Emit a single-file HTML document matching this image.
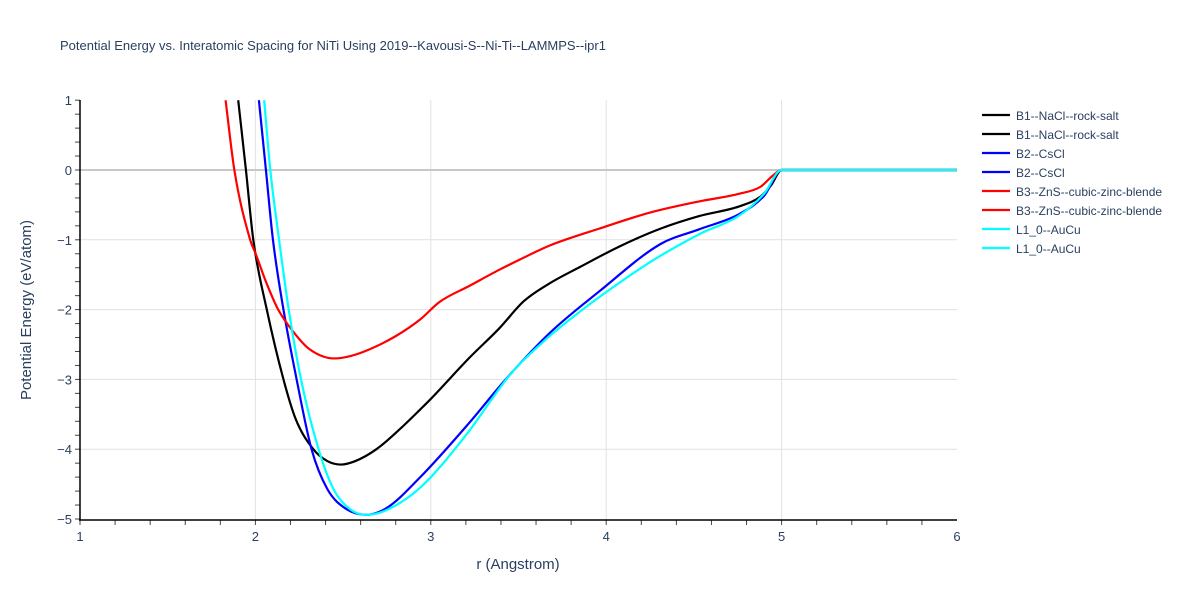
<!DOCTYPE html>
<html><head><meta charset="utf-8"><style>
body{margin:0;background:#fff;font-family:"Liberation Sans",sans-serif}
svg text{font-family:"Liberation Sans",sans-serif;fill:#2a3f5f}
</style></head><body>
<svg id="c" width="1200" height="600">
<text x="60" y="50" font-size="13">Potential Energy vs. Interatomic Spacing for NiTi Using 2019--Kavousi-S--Ni-Ti--LAMMPS--ipr1</text>
<g id="grid"></g><g id="axes"></g>
<defs><clipPath id="clip"><rect x="80" y="100" width="877" height="420"/></clipPath></defs>
<g id="lines" clip-path="url(#clip)"></g>
<g id="legend"></g>
<text x="518" y="569" font-size="15" text-anchor="middle">r (Angstrom)</text>
<text transform="translate(31,310) rotate(-90)" font-size="15" text-anchor="middle">Potential Energy (eV/atom)</text>
</svg>
<script>
const xTicks=[1,2,3,4,5,6];
const yTicks=[1,0,-1,-2,-3,-4,-5];
const seriesNames=["B1--NaCl--rock-salt","B2--CsCl","B3--ZnS--cubic-zinc-blende","L1_0--AuCu"];
const seriesColors=["#000000","#0000ff","#ff0000","#00ffff"];
const b1R=[1.902,1.946,1.988,2.065,2.16,2.23,2.33,2.41,2.486,2.57,2.69,2.82,2.94,3.0,3.22,3.39,3.53,3.68,3.85,4.08,4.31,4.53,4.76,4.88,4.94,5.0,6.0];
const b1E=[1,0,-1,-2,-3,-3.57,-4,-4.17,-4.22,-4.17,-4.0,-3.72,-3.43,-3.28,-2.69,-2.27,-1.88,-1.62,-1.39,-1.09,-0.84,-0.66,-0.52,-0.38,-0.22,0,0];
const b2R=[2.02,2.06,2.10,2.16,2.235,2.32,2.41,2.52,2.635,2.75,2.94,3.22,3.42,3.68,3.96,4.31,4.53,4.76,4.9,5.0,6.0];
const b2E=[1,0,-1,-2,-3,-4,-4.57,-4.86,-4.94,-4.84,-4.4,-3.62,-3.02,-2.33,-1.74,-1.06,-0.85,-0.63,-0.37,0,0];
const b3R=[1.83,1.88,1.97,2.0,2.06,2.13,2.22,2.31,2.45,2.55,2.65,2.80,2.94,3.05,3.22,3.39,3.51,3.68,3.96,4.25,4.53,4.76,4.88,4.95,5.0,6.0];
const b3E=[1,0,-1,-1.19,-1.6,-2,-2.33,-2.57,-2.70,-2.66,-2.57,-2.38,-2.14,-1.89,-1.66,-1.43,-1.28,-1.08,-0.84,-0.61,-0.45,-0.34,-0.24,-0.08,0,0];
const l10R=[2.05,2.085,2.135,2.19,2.26,2.36,2.445,2.54,2.63,2.75,2.94,3.2,3.45,3.65,3.85,4.0,4.25,4.53,4.76,4.9,5.0,6.0];
const l10E=[1,0,-1,-2,-3,-4,-4.57,-4.86,-4.94,-4.87,-4.55,-3.8,-2.94,-2.44,-2.03,-1.75,-1.32,-0.92,-0.65,-0.34,0,0];
const sx=v=>80+(v-1)*175.4, sy=v=>170-v*69.8;
const NS="http://www.w3.org/2000/svg";
function mk(t,a,p){const e=document.createElementNS(NS,t);for(const k in a)e.setAttribute(k,a[k]);p.appendChild(e);return e;}
function monoPath(xs,ys){
  const n=xs.length,d=[],m=[];
  for(let k=0;k<n-1;k++)d.push((ys[k+1]-ys[k])/(xs[k+1]-xs[k]));
  m[0]=d[0];m[n-1]=d[n-2];
  for(let k=1;k<n-1;k++){m[k]=(d[k-1]*d[k]<=0)?0:(d[k-1]+d[k])/2;}
  for(let k=0;k<n-1;k++){
    if(d[k]===0){m[k]=0;m[k+1]=0;continue;}
    const a=m[k]/d[k],b=m[k+1]/d[k],s=a*a+b*b;
    if(s>9){const t=3/Math.sqrt(s);m[k]=t*a*d[k];m[k+1]=t*b*d[k];}
  }
  let p='M'+xs[0]+','+ys[0];
  for(let k=0;k<n-1;k++){const h=xs[k+1]-xs[k];
    p+=' C'+(xs[k]+h/3)+','+(ys[k]+m[k]*h/3)+' '+(xs[k+1]-h/3)+','+(ys[k+1]-m[k+1]*h/3)+' '+xs[k+1]+','+ys[k+1];}
  return p;
}
const G=document.getElementById('grid'),A=document.getElementById('axes'),L=document.getElementById('lines'),LG=document.getElementById('legend');
xTicks.forEach(t=>{if(t>1&&t<6){const l=mk('line',{x1:sx(t),x2:sx(t),y1:100,y2:520,stroke:'#e1e1e1'},G);

}
const tx=mk('text',{x:sx(t),y:541,'font-size':13,'text-anchor':'middle'},A);tx.textContent=t;

});
for(let v=1;v<6;v+=0.2){mk('line',{x1:sx(v),x2:sx(v),y1:520,y2:525,stroke:'#444'},A);}
for(let v=-5;v<=1.001;v+=0.2){mk('line',{x1:75,x2:80,y1:sy(v),y2:sy(v),stroke:'#444'},A);}
yTicks.forEach(t=>{if(t<1&&t>-5){const l=mk('line',{x1:80,x2:957,y1:sy(t),y2:sy(t),stroke:t===0?'#c8c8c8':'#e1e1e1','stroke-width':t===0?2:1},G);

}
const tx=mk('text',{x:72,y:sy(t)+5,'font-size':13,'text-anchor':'end'},A);tx.textContent=t<0?'\u2212'+(-t):t;

});
mk('line',{x1:80,x2:80,y1:100,y2:520,stroke:'#000','stroke-width':1.5},A);
mk('line',{x1:79,x2:957,y1:520,y2:520,stroke:'#000','stroke-width':1.5},A);
const data=[[b1R,b1E],[b2R,b2E],[b3R,b3E],[l10R,l10E]];
data.forEach((d,i)=>{const p=mk('path',{d:monoPath(d[0].map(sx),d[1].map(sy)),fill:'none',stroke:seriesColors[i],'stroke-width':2.2,'stroke-linejoin':'round'},L);

});
for(let k=0;k<8;k++){const i=Math.floor(k/2),y=115+k*19;
const g=mk('g',{},LG);


mk('line',{x1:982,x2:1010,y1:y,y2:y,stroke:seriesColors[i],'stroke-width':2.2},g);
const t=mk('text',{x:1016,y:y+5,'font-size':12},g);t.textContent=seriesNames[i];}
</script>
</body></html>
